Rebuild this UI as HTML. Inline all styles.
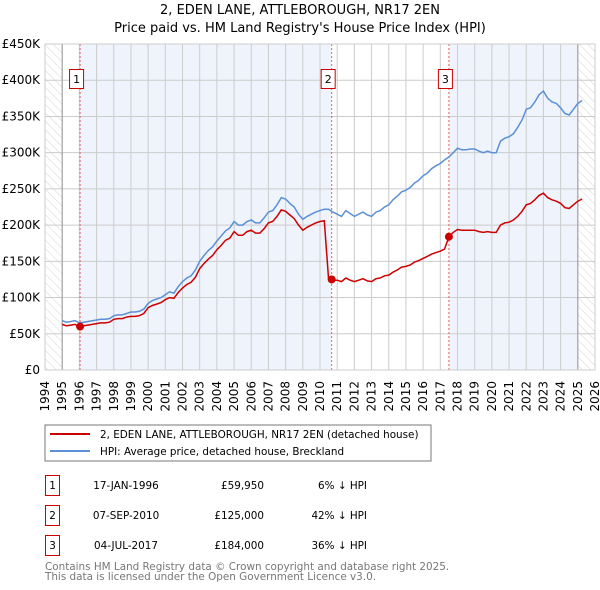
<!DOCTYPE html>
<html><head><meta charset="utf-8"><style>
body{margin:0;background:#fff;font-family:"DejaVu Sans","Liberation Sans",sans-serif;}
#wrap{position:relative;width:600px;height:590px;overflow:hidden;}
svg text{font-family:"DejaVu Sans","Liberation Sans",sans-serif;}
</style></head><body>
<div id="wrap">
<svg id="chart" width="600" height="590">
<defs><pattern id="hatch" width="6" height="6" patternUnits="userSpaceOnUse" patternTransform="rotate(-45)"><line x1="0" y1="0" x2="0" y2="6" stroke="#d4d4d4" stroke-width="1"/></pattern></defs>
<text x="300" y="14" text-anchor="middle" font-size="13">2, EDEN LANE, ATTLEBOROUGH, NR17 2EN</text>
<text x="300" y="32" text-anchor="middle" font-size="13">Price paid vs. HM Land Registry's House Price Index (HPI)</text>
<g id="plot"></g>
<rect x="45" y="425" width="386" height="36" fill="#fff" stroke="#777"/>
<line x1="50" y1="434" x2="90" y2="434" stroke="#cc0000" stroke-width="2"/>
<text x="100" y="438" font-size="10.4">2, EDEN LANE, ATTLEBOROUGH, NR17 2EN (detached house)</text>
<line x1="50" y1="451" x2="90" y2="451" stroke="#5b8fd6" stroke-width="2"/>
<text x="100" y="455" font-size="10.4">HPI: Average price, detached house, Breckland</text>
<g id="table" font-size="10.4"></g>
<text x="45" y="570" font-size="10.4" fill="#777">Contains HM Land Registry data © Crown copyright and database right 2025.</text>
<text x="45" y="580" font-size="10.4" fill="#777">This data is licensed under the Open Government Licence v3.0.</text>
</svg>
</div>
<script>
const hpiValues=[68,66,67,68, 65,66,67,68, 69,70,70,71, 75,76,76,78, 80,80,81,84, 92,96,98,100,
104,108,106,115, 122,127,130,138, 150,158,165,170, 178,185,192,196, 205,200,200,205, 207,203,203,210,
218,220,228,238, 236,230,225,215, 208,212,215,218, 220,222,222,218, 215,212,220,216, 212,215,218,214,
212,218,220,225, 228,235,240,246, 248,252,258,262, 268,272,278,282, 285,290,294,300, 306,304,304,305,
305,302,300,302, 300,300,316,320, 322,326,335,345, 360,362,370,380, 385,375,370,368, 362,354,352,360, 368,372];
const propValues=[63,61,62,63, 60,61,62,63, 64,65,65,66, 70,71,71,73, 74,74,75,78, 86,89,91,93,
97,100,99,107, 113,118,121,128, 140,147,153,158, 166,172,179,182, 191,186,186,191, 193,189,189,195,
203,205,212,221, 219,214,209,200, 193,197,200,203, 205,206,125,124, 124,122,127,124, 122,124,126,123,
122,126,127,130, 131,135,138,142, 143,145,149,151, 154,157,160,162, 164,167,184,190, 194,193,193,193,
193,191,190,191, 190,190,200,203, 204,207,212,219, 228,230,235,241, 244,238,235,233, 230,224,223,228, 233,236];
const seriesStart=1995;
const saleDates=[1996.04,2010.68,2017.5];
const salePrices=[59950,125000,184000];
const saleLabels=["1","2","3"];
const saleDateText=["17-JAN-1996","07-SEP-2010","04-JUL-2017"];
const salePriceText=["£59,950","£125,000","£184,000"];
const saleDiffText=["6% ↓ HPI","42% ↓ HPI","36% ↓ HPI"];
const yTicks=[0,50,100,150,200,250,300,350,400,450];
const yTickLabels=["£0","£50K","£100K","£150K","£200K","£250K","£300K","£350K","£400K","£450K"];
const xMin=1994,xMax=2026,yMax=450;
const L=45,R=595,T=44,B=370;
const X=t=>L+(t-xMin)/(xMax-xMin)*(R-L);
const Y=v=>B-v/yMax*(B-T);
const NS="http://www.w3.org/2000/svg";
function mk(tag,attrs,parent,txt){const e=document.createElementNS(NS,tag);for(const k in attrs)e.setAttribute(k,attrs[k]);if(txt!==undefined)e.textContent=txt;parent.appendChild(e);return e;}
const g=document.getElementById('plot');
let e;
e=mk('rect',{x:L,y:T,width:R-L,height:B-T,fill:'#fff'},g);

e=mk('rect',{x:X(saleDates[0]),y:T,width:X(saleDates[1])-X(saleDates[0]),height:B-T,fill:'#eef3fc'},g);

e=mk('rect',{x:X(saleDates[2]),y:T,width:X(2025)-X(saleDates[2]),height:B-T,fill:'#eef3fc'},g);

e=mk('rect',{x:L,y:T,width:X(1995)-L,height:B-T,fill:'url(#hatch)'},g);

e=mk('rect',{x:X(2025),y:T,width:R-X(2025),height:B-T,fill:'url(#hatch)'},g);

for(let yr=xMin;yr<=xMax;yr++){
  e=mk('line',{x1:X(yr),x2:X(yr),y1:T,y2:B,stroke:'#ccc'},g);
  
  e=mk('text',{transform:`translate(${X(yr)+4},381) rotate(-90)`,'font-size':12,'text-anchor':'end'},g,String(yr));
  
}
yTicks.forEach((v,i)=>{
  e=mk('line',{x1:L,x2:R,y1:Y(v),y2:Y(v),stroke:'#ccc'},g);
  
  e=mk('text',{x:40,y:Y(v)+4,'font-size':12,'text-anchor':'end'},g,yTickLabels[i]);
  
});
[1995,2025].forEach(yr=>{e=mk('line',{x1:X(yr),x2:X(yr),y1:T,y2:B,stroke:'#999'},g);
});
saleDates.forEach((d,i)=>{
  e=mk('line',{x1:X(d),x2:X(d),y1:T,y2:B,stroke:'#e06060','stroke-dasharray':'2,2'},g);
  
});
const pts=a=>a.map((v,i)=>X(seriesStart+i/4).toFixed(1)+','+Y(v).toFixed(1)).join(' ');
e=mk('polyline',{points:pts(hpiValues),fill:'none',stroke:'#5b8fd6','stroke-width':1.5},g);

e=mk('polyline',{points:pts(propValues),fill:'none',stroke:'#cc0000','stroke-width':1.5},g);

saleDates.forEach((d,i)=>{
  e=mk('circle',{cx:X(d),cy:Y(salePrices[i]/1000),r:4,fill:'#cc0000'},g);
  
  e=mk('rect',{x:X(d)-10.5,y:69.5,width:14,height:19,fill:'#fff',stroke:'#cc0000'},g);
  
  e=mk('text',{x:X(d)-3.5,y:83,'font-size':11,'text-anchor':'middle'},g,saleLabels[i]);
  
});
e=mk('rect',{x:L,y:T,width:R-L,height:B-T,fill:'none',stroke:'#ccc'},g);

const tb=document.getElementById('table');
saleLabels.forEach((s,i)=>{
  const y0=475+i*30;
  e=mk('rect',{x:45.5,y:y0+0.5,width:14,height:20,fill:'#fff',stroke:'#cc0000'},tb);
  
  e=mk('text',{x:52.5,y:y0+14,'text-anchor':'middle'},tb,s);
  
  e=mk('text',{x:126,y:y0+14,'text-anchor':'middle'},tb,saleDateText[i]);
  
  e=mk('text',{x:264,y:y0+14,'text-anchor':'end'},tb,salePriceText[i]);
  
  e=mk('text',{x:367,y:y0+14,'text-anchor':'end'},tb,saleDiffText[i]);
  
});
</script>
</body></html>
